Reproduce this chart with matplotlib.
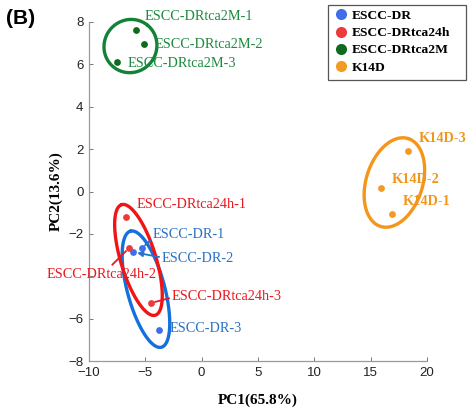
import numpy as np
import matplotlib
matplotlib.use("Agg")
import matplotlib.pyplot as plt
from matplotlib.lines import Line2D
from matplotlib.patches import Rectangle

# ---------------- data ----------------
groups = ["ESCC-DR", "ESCC-DRtca24h", "ESCC-DRtca2M", "K14D"]

dr_x = [-5.30, -6.10, -3.79]
dr_y = [-2.67, -2.86, -6.55]
dr_labels = ["ESCC-DR-1", "ESCC-DR-2", "ESCC-DR-3"]

h24_x = [-6.72, -6.45, -4.50]
h24_y = [-1.20, -2.67, -5.26]
h24_labels = ["ESCC-DRtca24h-1", "ESCC-DRtca24h-2", "ESCC-DRtca24h-3"]

m2_x = [-5.83, -5.12, -7.52]
m2_y = [7.62, 6.96, 6.11]
m2_labels = ["ESCC-DRtca2M-1", "ESCC-DRtca2M-2", "ESCC-DRtca2M-3"]

k14_x = [16.89, 15.91, 18.30]
k14_y = [-1.06, 0.17, 1.91]
k14_labels = ["K14D-1", "K14D-2", "K14D-3"]

x_ticks = [-10, -5, 0, 5, 10, 15, 20]
y_ticks = [-8, -6, -4, -2, 0, 2, 4, 6, 8]
hidden_y_ticklabels = [-4]  # covered by a sample label in the reference

# ---------------- styles ----------------
marker_colors = ["#3f6ee8", "#ec3b3b", "#0f6a1e", "#f39a24"]
ellipse_colors = ["#1470dc", "#f01414", "#128236", "#f5951a"]
text_colors = ["#2a72c4", "#e8191f", "#1e8a40", "#f0961c"]
ellipse_pad = [(17, 12), (13, 12), (6, 17), (12, 17)]  # display px

# label offsets in display pixels (dx, dy), per point
offsets = {
    "ESCC-DR-1": (11, 14), "ESCC-DR-2": (29, -6), "ESCC-DR-3": (11, 2),
    "ESCC-DRtca24h-1": (11, 12), "ESCC-DRtca24h-2": (-82, -26), "ESCC-DRtca24h-3": (21, 6),
    "ESCC-DRtca2M-1": (9, 14), "ESCC-DRtca2M-2": (11, 0), "ESCC-DRtca2M-3": (11, -1),
    "K14D-1": (11, 12), "K14D-2": (11, 8), "K14D-3": (11, 13),
}
connectors = {
    "ESCC-DR-1": dict(arrowstyle="-", relpos=(0.0, 0.2)),
    "ESCC-DR-2": dict(arrowstyle="-|>,head_length=0.3,head_width=0.15", relpos=(0.0, 0.55)),
    "ESCC-DRtca24h-2": dict(arrowstyle="-", relpos=(0.55, 0.85)),
    "ESCC-DRtca24h-3": dict(arrowstyle="-", relpos=(0.0, 0.45)),
}

fig = plt.figure(figsize=(4.68, 4.13), dpi=100)
ax = fig.add_axes([89 / 468, 1 - 361 / 413, (427 - 89) / 468, (361 - 22) / 413])
ax.set_xlim(-10, 20)
ax.set_ylim(-8, 8)
ax.set_xticks(x_ticks)
ax.set_yticks(y_ticks)
ax.set_yticklabels(["" if v in hidden_y_ticklabels else f"{v}".replace("-", "\u2212")
                    for v in y_ticks])
for s in ["top", "right"]:
    ax.spines[s].set_visible(False)
for s in ["left", "bottom"]:
    ax.spines[s].set_color("#9a9a9a")
    ax.spines[s].set_linewidth(0.9)
ax.tick_params(direction="in", length=3, width=0.7, color="#777777",
               labelsize=9.5, labelcolor="#222222", pad=4)
for lab in ax.get_xticklabels() + ax.get_yticklabels():
    lab.set_family("Liberation Sans")

all_x = [dr_x, h24_x, m2_x, k14_x]
all_y = [dr_y, h24_y, m2_y, k14_y]
all_lab = [dr_labels, h24_labels, m2_labels, k14_labels]

fig.canvas.draw()
trans = ax.transData
inv = trans.inverted()

for gi in range(4):
    xs = np.array(all_x[gi]); ys = np.array(all_y[gi])
    pts = trans.transform(np.column_stack([xs, ys]))
    c = (pts.min(axis=0) + pts.max(axis=0)) / 2
    cov = np.cov((pts - pts.mean(axis=0)).T)
    w, v = np.linalg.eigh(cov)
    u_major = v[:, 1]; u_minor = v[:, 0]
    d = pts - c
    a = np.abs(d @ u_major).max() + ellipse_pad[gi][0]
    b = np.abs(d @ u_minor).max() + ellipse_pad[gi][1]
    t = np.linspace(0, 2 * np.pi, 300)
    curve = c + np.outer(a * np.cos(t), u_major) + np.outer(b * np.sin(t), u_minor)
    cd = inv.transform(curve)
    ax.plot(cd[:, 0], cd[:, 1], color=ellipse_colors[gi], lw=2.4, zorder=2,
            solid_capstyle="round", clip_on=False)
    ax.scatter(xs, ys, s=24, color=marker_colors[gi], zorder=3, linewidths=0,
               clip_on=False)

for gi in range(4):
    for xv, yv, lab in zip(all_x[gi], all_y[gi], all_lab[gi]):
        dx, dy = offsets[lab]
        kw = {}
        if lab in connectors:
            ap = dict(connectors[lab])
            ap.update(color=text_colors[gi], lw=1.3, shrinkA=0, shrinkB=3)
            kw["arrowprops"] = ap
        ax.annotate(lab, xy=(xv, yv), xytext=(dx, dy), textcoords="offset pixels",
                    ha="left", va="center", fontsize=10.3,
                    family="Liberation Serif", color=text_colors[gi],
                    fontweight="bold" if gi == 3 else "normal", zorder=4,
                    annotation_clip=False, **kw)

ax.set_xlabel("PC1(65.8%)", family="Liberation Serif", fontweight="bold",
              fontsize=11, labelpad=11)
ax.set_ylabel("PC2(13.6%)", family="Liberation Serif", fontweight="bold",
              fontsize=11, labelpad=4)

handles = [Line2D([], [], marker="o", ls="none", markersize=8,
                  markerfacecolor=marker_colors[i], markeredgecolor="none")
           for i in range(4)]
leg = fig.legend(handles, groups, loc="upper left",
                 bbox_to_anchor=(330 / 468, 1 - 5 / 413), borderaxespad=0,
                 prop=dict(family="Liberation Serif", weight="bold", size=9.7),
                 frameon=False, handletextpad=0.3,
                 handlelength=1.0, labelspacing=0.35, borderpad=0.35)
fig.add_artist(Rectangle((328 / 468, 1 - 80 / 413), (466 - 328) / 468, 75 / 413,
                         transform=fig.transFigure, fill=True, facecolor="white",
                         edgecolor="#555555", linewidth=0.9, zorder=0.5))
leg.set_zorder(5)

fig.text(6 / 468, 1 - 19 / 413, "(B)", family="Liberation Sans", fontweight="bold",
         fontsize=15, va="center", ha="left")

fig.savefig("out.png", dpi=100)
